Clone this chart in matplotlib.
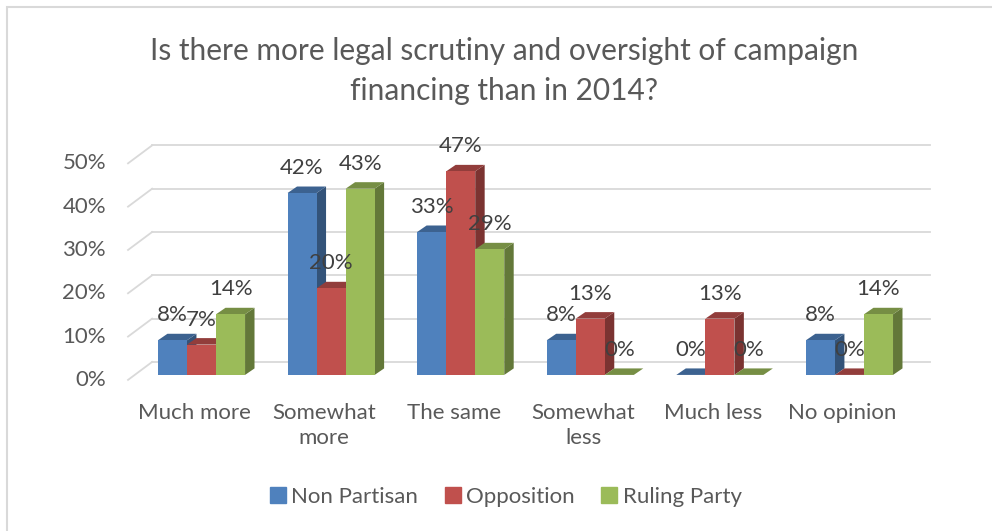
import matplotlib.pyplot as plt
from matplotlib.patches import Polygon, Rectangle, Patch
from matplotlib.colors import to_rgb

categories = ["Much more", "Somewhat\nmore", "The same", "Somewhat\nless", "Much less", "No opinion"]
series = ["Non Partisan", "Opposition", "Ruling Party"]
non_partisan = [8, 42, 33, 8, 0, 8]
opposition = [7, 20, 47, 13, 13, 0]
ruling_party = [14, 43, 29, 0, 0, 14]
colors = ["#4F81BD", "#C0504D", "#9BBB59"]
yticks = [0, 10, 20, 30, 40, 50]

plt.rcParams['font.family'] = ['Lato', 'DejaVu Sans']

GRID = '#D9D9D9'
TEXT = '#595959'
FS = 16


def shade(c, f):
    r, g, b = to_rgb(c)
    return (r * f, g * f, b * f)


fig = plt.figure(figsize=(9.92, 5.31), dpi=100)
ax = fig.add_axes([0.0725, 0.245, 0.9014, 0.5057])
ax.set_xlim(-1.0, 5.9)
ax.set_ylim(-6, 56)
ax.axis('off')

bar_w = 0.224
# fake depth: bar top/side offset, back wall and front floor edge (data units)
dx, dy = 0.073, 1.5
wall_dx, wall_dy = 0.134, 3.0
front_dx, front_dy = -0.052, -1.15
wall_left = -0.381
wall_right = 5.62
front_left = wall_left - (wall_dx - front_dx)

# back wall gridlines + left wall diagonals
for t in yticks:
    ax.plot([wall_left, wall_right], [t + wall_dy, t + wall_dy], color=GRID, lw=1.3, zorder=1)
    ax.plot([front_left, wall_left], [t + front_dy, t + wall_dy], color=GRID, lw=1.3, zorder=1)
    ax.annotate(f"{t}%", (front_left, t + front_dy), xytext=(-22, 0),
                textcoords='offset pixels', ha='right', va='center',
                fontsize=FS, color=TEXT)

values = [non_partisan, opposition, ruling_party]
z = 2
for i in range(len(categories)):
    for j, vals in enumerate(values):
        x0 = i + (j - 1.5) * bar_w
        x1 = x0 + bar_w
        h = vals[i]
        c = colors[j]
        side = Polygon([(x1, 0), (x1 + dx, dy), (x1 + dx, h + dy), (x1, h)],
                       closed=True, color=shade(c, 0.64), lw=0, zorder=z)
        top = Polygon([(x0, h), (x1, h), (x1 + dx, h + dy), (x0 + dx, h + dy)],
                      closed=True, color=shade(c, 0.76), lw=0, zorder=z)
        front = Rectangle((x0, 0), bar_w, h, color=c, lw=0, zorder=z)
        ax.add_patch(side)
        ax.add_patch(top)
        ax.add_patch(front)
        z += 1
        ax.annotate(f"{h}%", (x0 + bar_w / 2, h), xytext=(0, 25),
                    textcoords='offset pixels', ha='center', va='center',
                    fontsize=FS, color='#404040', zorder=100)

for i, cat in enumerate(categories):
    ax.annotate(cat, (i, 0), xytext=(-7, -28), textcoords='offset pixels',
                ha='center', va='top', fontsize=FS, color=TEXT, linespacing=1.3)

fig.text(0.508, 1 - 71 / 531,
         "Is there more legal scrutiny and oversight of campaign\nfinancing than in 2014?",
         ha='center', va='center', fontsize=21.5, color=TEXT, linespacing=1.5)

handles = [Patch(color=c) for c in colors]
fig.legend(handles, series, loc='center', bbox_to_anchor=(0.51, 0.064), ncol=3,
           frameon=False, fontsize=FS, handlelength=0.7, handleheight=0.7,
           handletextpad=0.25, columnspacing=1.2, labelcolor=TEXT)

# outer chart border
fig.add_artist(Rectangle((6.5 / 992, -0.1), 1.2, 1.0859, fill=False,
                         ec=GRID, lw=1.5, transform=fig.transFigure))

fig.savefig('out.png', dpi=100)
